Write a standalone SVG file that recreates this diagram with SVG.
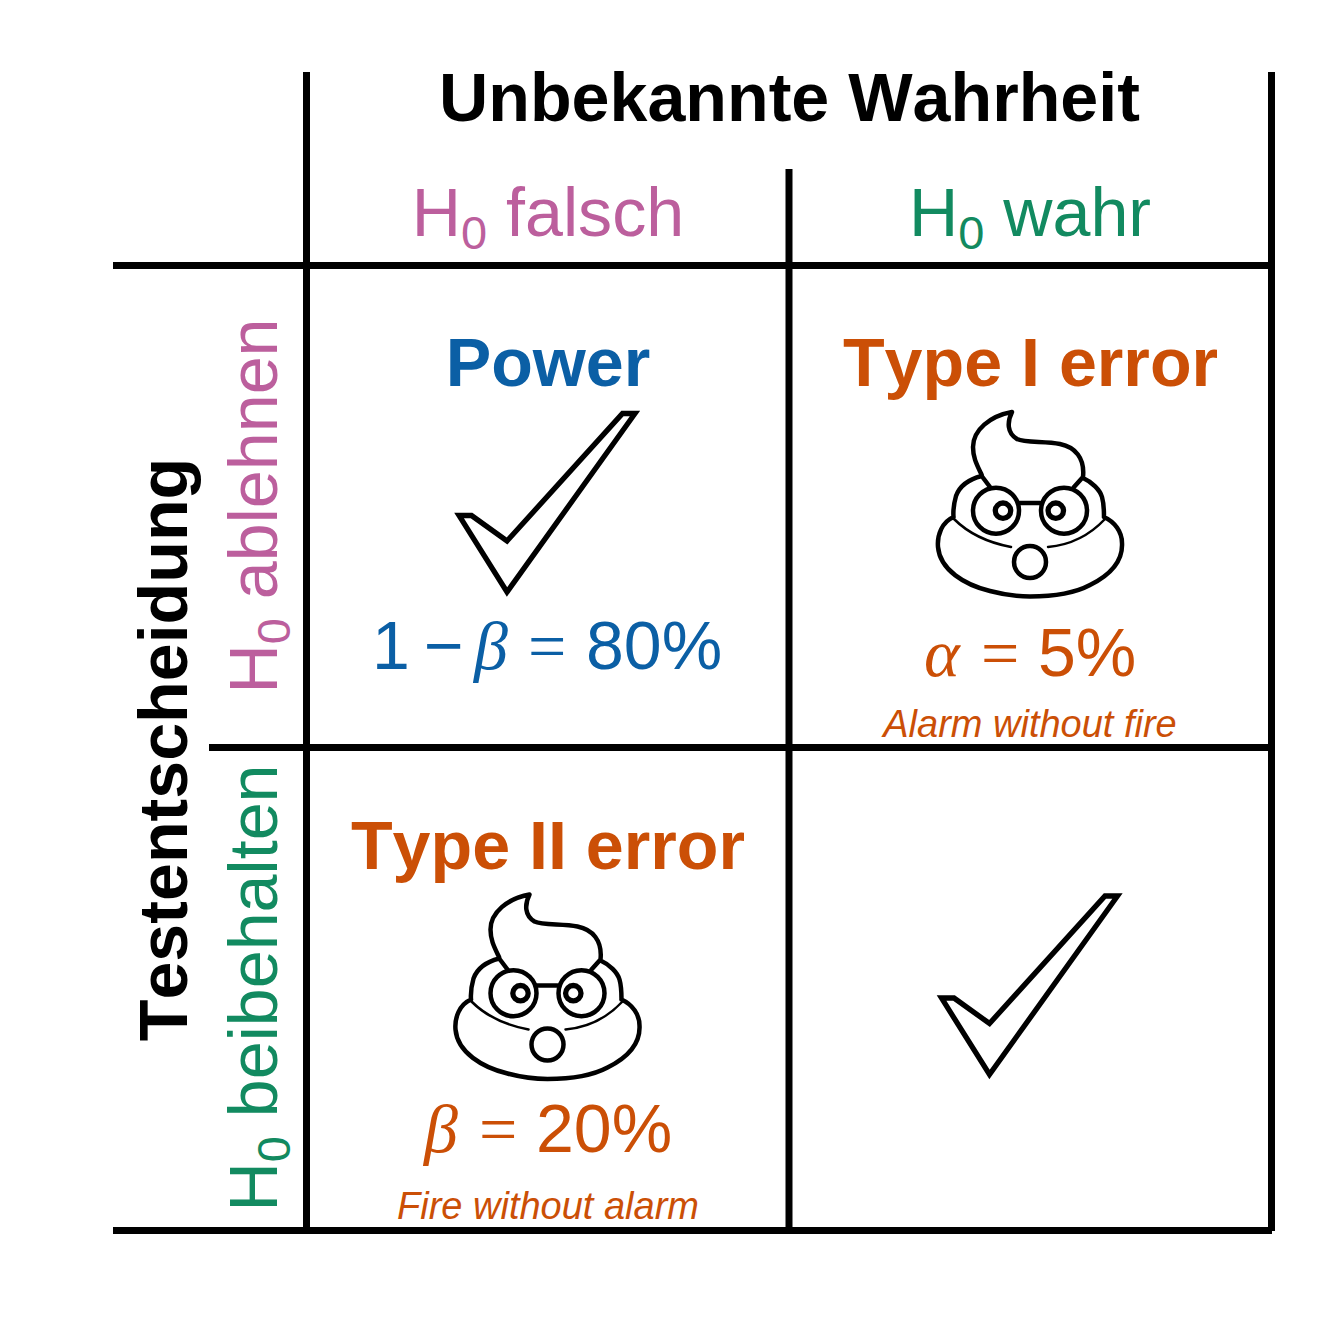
<svg xmlns="http://www.w3.org/2000/svg" width="1344" height="1344" viewBox="0 0 1344 1344">
<style>
text{font-family:"Liberation Sans",Arial,sans-serif;font-kerning:none}
.b{font-weight:bold}
.t{font-size:68.200px;text-anchor:middle}
.m{font-size:68px}
.s{font-size:38px;font-style:italic;text-anchor:middle}
.sub{font-size:47px}
.se{font-family:"Liberation Serif",serif}
.pk{fill:#bc5f9d}.gr{fill:#128a60}.bl{fill:#0b5fa5}.or{fill:#cb4f06}
.i{font-style:italic}
.grid{stroke:#000;stroke-width:7;fill:none}
.ic{fill:#fff;stroke:#000;stroke-width:5.300;stroke-linejoin:miter}
.p{fill:none;stroke:#000;stroke-width:4.500;stroke-linecap:round;stroke-linejoin:round}
.thin{stroke-width:2.500}
.eye{stroke-width:5.300}
</style>
<defs>
<polygon id="check" class="ic" points="622.500,413.500 635,413.500 507,592 459,515.500 471.500,515.500 507,541"/>
<g id="poop">
<path class="p" d="M61.700,75 C57,65 53,58 53,47 C53,30 70,16 92,12 C87,22 87,33 97,39 C105,43 125,41 140,44 C155,47 165,58 163,77 M61.700,76 C50,79 40,85 36,96 C34,103 33,110 33.500,117 M61.700,76 L70,87 M163,77 L154,87 M163,78 C172,82 180,90 182,97 C184,104 184,112 184,117 M33.500,117 C22,122 17,135 18,147 C20,170 45,185 70,191 C85,195 100,196.500 110,196.500 C135,196.500 155,193 170,185 C190,175 203,162 202,143 C202,132 195,122 184,117"/>
<path class="p thin" d="M34,119 C50,135 70,143 91,147 M128,147 C150,145 170,135 185,119"/>
<circle class="p" cx="76" cy="110.700" r="23"/><circle class="p" cx="144" cy="110.700" r="23"/>
<path class="p" d="M99,103 H120"/>
<circle class="p eye" cx="83" cy="110.700" r="7.700"/><circle class="p eye" cx="135.800" cy="110.700" r="7.700"/>
<circle class="p" cx="110" cy="162" r="16"/>
</g>
</defs>
<g id="connectors">
<path class="grid" d="M306.500,72V1231M789,169V1231M1271.500,72V1231M113,265.500H1272M209,747.500H1272M113,1230.500H1272"/>
</g>
<g id="title"><text class="t b" x="789.500" y="120.500">Unbekannte Wahrheit</text></g>
<g id="col-falsch"><text class="t pk" x="548" y="235.500">H<tspan class="sub" dy="13">0</tspan><tspan dy="-13"> falsch</tspan></text></g>
<g id="col-wahr"><text class="t gr" x="1030" y="235.500">H<tspan class="sub" dy="13">0</tspan><tspan dy="-13"> wahr</tspan></text></g>
<g id="row-title"><text class="t b" transform="translate(187,749.500) rotate(-90)">Testentscheidung</text></g>
<g id="row-ablehnen"><text class="t pk" transform="translate(277,506) rotate(-90)">H<tspan class="sub" dy="13">0</tspan><tspan dy="-13"> ablehnen</tspan></text></g>
<g id="row-beibehalten"><text class="t gr" transform="translate(277,988) rotate(-90)">H<tspan class="sub" dy="13">0</tspan><tspan dy="-13"> beibehalten</tspan></text></g>
<g id="cell-power">
<text class="t b bl" x="548" y="386">Power</text>
<use href="#check"/>
<text class="m bl" y="668.500"><tspan x="372">1</tspan><tspan x="424">−</tspan><tspan x="474" class="i se">β</tspan><tspan x="528" class="se">=</tspan><tspan x="586">80%</tspan></text>
</g>
<g id="cell-type1">
<text class="t b or" x="1030.500" y="386">Type I error</text>
<use href="#poop" x="920" y="400"/>
<text class="m or" y="675.500"><tspan x="924" class="i se">α</tspan><tspan x="981" class="se">=</tspan><tspan x="1038">5%</tspan></text>
<text class="s or" x="1030" y="737">Alarm without fire</text>
</g>
<g id="cell-type2">
<text class="t b or" x="548" y="868.500">Type II error</text>
<use href="#poop" x="437.500" y="882.500"/>
<text class="m or" y="1151.500"><tspan x="424" class="i se">β</tspan><tspan x="479" class="se">=</tspan><tspan x="536">20%</tspan></text>
<text class="s or" x="548" y="1219">Fire without alarm</text>
</g>
<g id="cell-correct"><use href="#check" x="482.500" y="482.500"/></g>
</svg>
